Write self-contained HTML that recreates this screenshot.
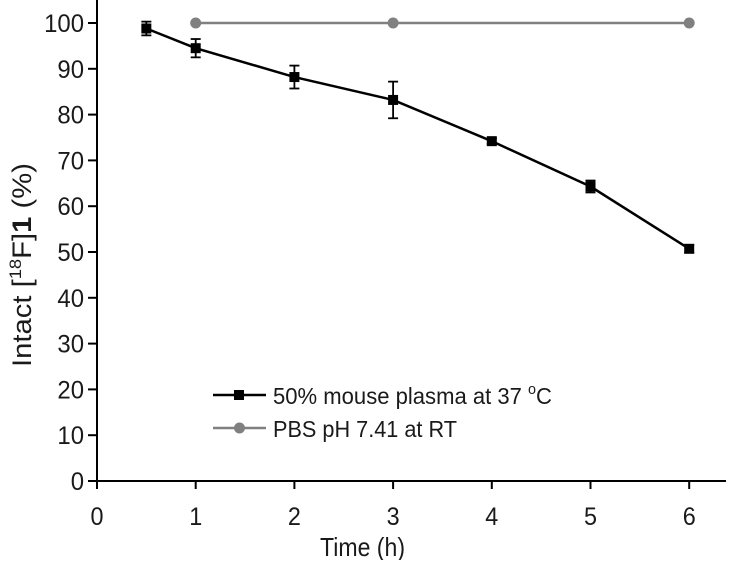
<!DOCTYPE html>
<html><head><meta charset="utf-8"><style>
body{margin:0;background:#fff;}
svg text{font-family:"Liberation Sans",Arial,sans-serif;fill:#1a1a1a;}
</style></head><body>
<svg width="740" height="560">
<g id="axes"></g><g id="marks"></g>
<g>
<line x1="213" y1="395" x2="266" y2="395" stroke="#000" stroke-width="2.5"/>
<rect x="234" y="390" width="10" height="10" fill="#000"/>
<text x="273" y="404" font-size="23" textLength="279" lengthAdjust="spacingAndGlyphs">50% mouse plasma at 37 <tspan font-size="15" dy="-10">o</tspan><tspan dy="10">C</tspan></text>
<line x1="213" y1="428" x2="266" y2="428" stroke="#808080" stroke-width="2.5"/>
<circle cx="239.5" cy="428" r="5.5" fill="#808080"/>
<text x="273" y="437" font-size="23" textLength="184" lengthAdjust="spacingAndGlyphs">PBS pH 7.41 at RT</text>
</g>
<text x="320" y="556" font-size="26" textLength="85" lengthAdjust="spacingAndGlyphs">Time (h)</text>
<text transform="translate(31,367) rotate(-90)" font-size="27" textLength="204" lengthAdjust="spacingAndGlyphs">Intact [<tspan font-size="17" dy="-10">18</tspan><tspan dy="10">F]</tspan><tspan font-weight="bold">1</tspan> (%)</text>
</svg>
<script>
const plasmaTimes=[0.5,1,2,3,4,5,6];
const plasmaValues=[98.8,94.5,88.2,83.2,74.2,64.3,50.7];
const plasmaErrors=[1.5,2,2.5,4,0.6,1.3,0.8];
const pbsTimes=[1,3,6];
const pbsValues=[100,100,100];
const xTicks=[0,1,2,3,4,5,6];
const yTicks=[0,10,20,30,40,50,60,70,80,90,100];
const NS="http://www.w3.org/2000/svg";
const X=v=>97+v*98.7, Y=v=>481-v*4.58;
function mk(tag,attrs,parent,text){const e=document.createElementNS(NS,tag);for(const k in attrs)e.setAttribute(k,attrs[k]);if(text!==undefined)e.textContent=text;parent.appendChild(e);return e;}
const ax=document.getElementById('axes'), mg=document.getElementById('marks');
let l=mk('line',{x1:97,y1:0,x2:97,y2:481,stroke:'#000','stroke-width':2},ax);


l=mk('line',{x1:96,y1:481,x2:726,y2:481,stroke:'#000','stroke-width':2},ax);


xTicks.forEach(t=>{mk('line',{x1:X(t),y1:481,x2:X(t),y2:489,stroke:'#000','stroke-width':2},ax);
const s=String(t);
const tx=mk('text',{x:X(t)-s.length*6.5,y:525,'font-size':25,textLength:s.length*13,lengthAdjust:'spacingAndGlyphs'},ax,s);

});
yTicks.forEach(t=>{mk('line',{x1:88,y1:Y(t),x2:97,y2:Y(t),stroke:'#000','stroke-width':2},ax);
const s=String(t);
const tx=mk('text',{x:84-s.length*13.3,y:Y(t)+9,'font-size':25,textLength:s.length*13.3,lengthAdjust:'spacingAndGlyphs'},ax,s);

});
let p=mk('polyline',{points:pbsTimes.map((t,i)=>X(t)+','+Y(pbsValues[i])).join(' '),fill:'none',stroke:'#808080','stroke-width':2.5},mg);


pbsTimes.forEach((t,i)=>{const c=mk('circle',{cx:X(t),cy:Y(pbsValues[i]),r:5.5,fill:'#808080'},mg);

});
p=mk('polyline',{points:plasmaTimes.map((t,i)=>X(t)+','+Y(plasmaValues[i])).join(' '),fill:'none',stroke:'#000','stroke-width':2.5},mg);


plasmaTimes.forEach((t,i)=>{const x=X(t),y1=Y(plasmaValues[i]+plasmaErrors[i]),y2=Y(plasmaValues[i]-plasmaErrors[i]);
const g=mk('g',{stroke:'#000','stroke-width':1.8},mg);


mk('line',{x1:x,y1:y1,x2:x,y2:y2},g);mk('line',{x1:x-5,y1:y1,x2:x+5,y2:y1},g);mk('line',{x1:x-5,y1:y2,x2:x+5,y2:y2},g);
const r=mk('rect',{x:x-5,y:Y(plasmaValues[i])-5,width:10,height:10,fill:'#000'},mg);

});
</script>
</body></html>
